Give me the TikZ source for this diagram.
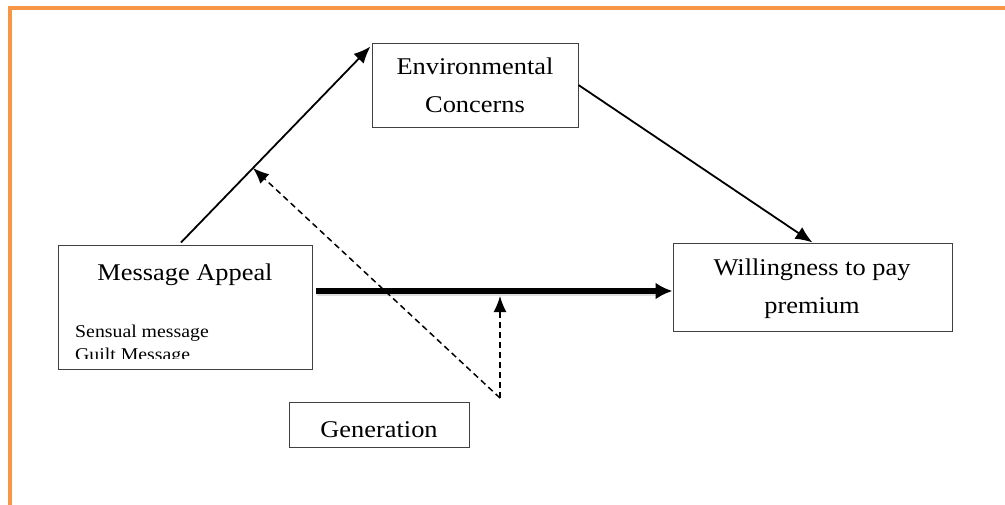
\documentclass[tikz,border=0pt]{standalone}
\usepackage{fontspec}
\setmainfont{Liberation Serif}[FakeStretch=1.1]
\usetikzlibrary{arrows.meta,calc}
\definecolor{frameorange}{HTML}{F79646}
\definecolor{boxline}{HTML}{404040}
\tikzset{
  box/.style={draw=boxline, line width=1pt, rectangle, inner sep=0pt},
  big/.style={font=\fontsize{24}{38}\selectfont, align=center, inner sep=0pt},
  small/.style={font=\fontsize{18}{23}\selectfont, align=left, inner sep=0pt, anchor=base west},
  conn/.style={line width=1.8pt, -{Latex[length=17pt,width=14pt]}},
  thickconn/.style={line width=5.5pt, -{Latex[length=17pt,width=17pt]}},
  modconn/.style={line width=1.5pt, dash pattern=on 6pt off 4pt, -{Latex[length=16pt,width=13pt]}},
}
\begin{document}
\begin{tikzpicture}[x=1pt,y=-1pt]
\useasboundingbox (0,0) rectangle (1005,504);
\fill[white] (0,0) rectangle (1005,504);
\draw[frameorange, line width=4pt] (10,8) rectangle (1030,530);

% boxes
\node[box, minimum width=206pt, minimum height=84pt] (ec) at (475,85) {};
\node[box, minimum width=254pt, minimum height=124pt] (ma) at (185,307) {};
\node[box, minimum width=279pt, minimum height=88pt] (wp) at (812.5,287) {};
\node[box, minimum width=180pt, minimum height=45pt] (gen) at (379,424.5) {};

% texts (base = last line)
\node[big, anchor=base] (ect) at (475,112) {Environmental\\Concerns};
\node[big, anchor=base] (mat) at (185,280) {Message Appeal};
\node[big, anchor=base] (wpt) at (812,313) {Willingness to pay\\premium};
\node[big, anchor=base] (gent) at (379,437) {Generation};
\begin{scope}
\clip (60,316) rectangle (310,358);
\node[small] (mas) at (75,360) {Sensual message\\Guilt Message};
\end{scope}

% connectors
\coordinate (maTop) at ($(ma.north)+(-4,-2)$);
\coordinate (ecIn) at ($(ec.north west)+(-1,4)$);
\draw[conn] (maTop) -- (ecIn);
\draw[conn] (ec.east) -- (wp.north);

\coordinate (thickStart) at ($(ma.east)+(3,-16)$);
\coordinate (thickEnd) at ($(wp.west)+(0,4)$);
\draw[black!25, line width=6pt, opacity=0.5] ($(thickStart)+(1,2)$) -- ($(thickEnd)+(-14,2)$);
\draw[thickconn] (thickStart) -- (thickEnd);

\coordinate (g) at (500,398);
\coordinate (onMA) at ($(maTop)!0.38!(ecIn)$);
\coordinate (onThick) at (500,296);
\draw[modconn] (g) -- (onMA);
\draw[modconn] (g) -- (onThick);
\end{tikzpicture}
\end{document}
